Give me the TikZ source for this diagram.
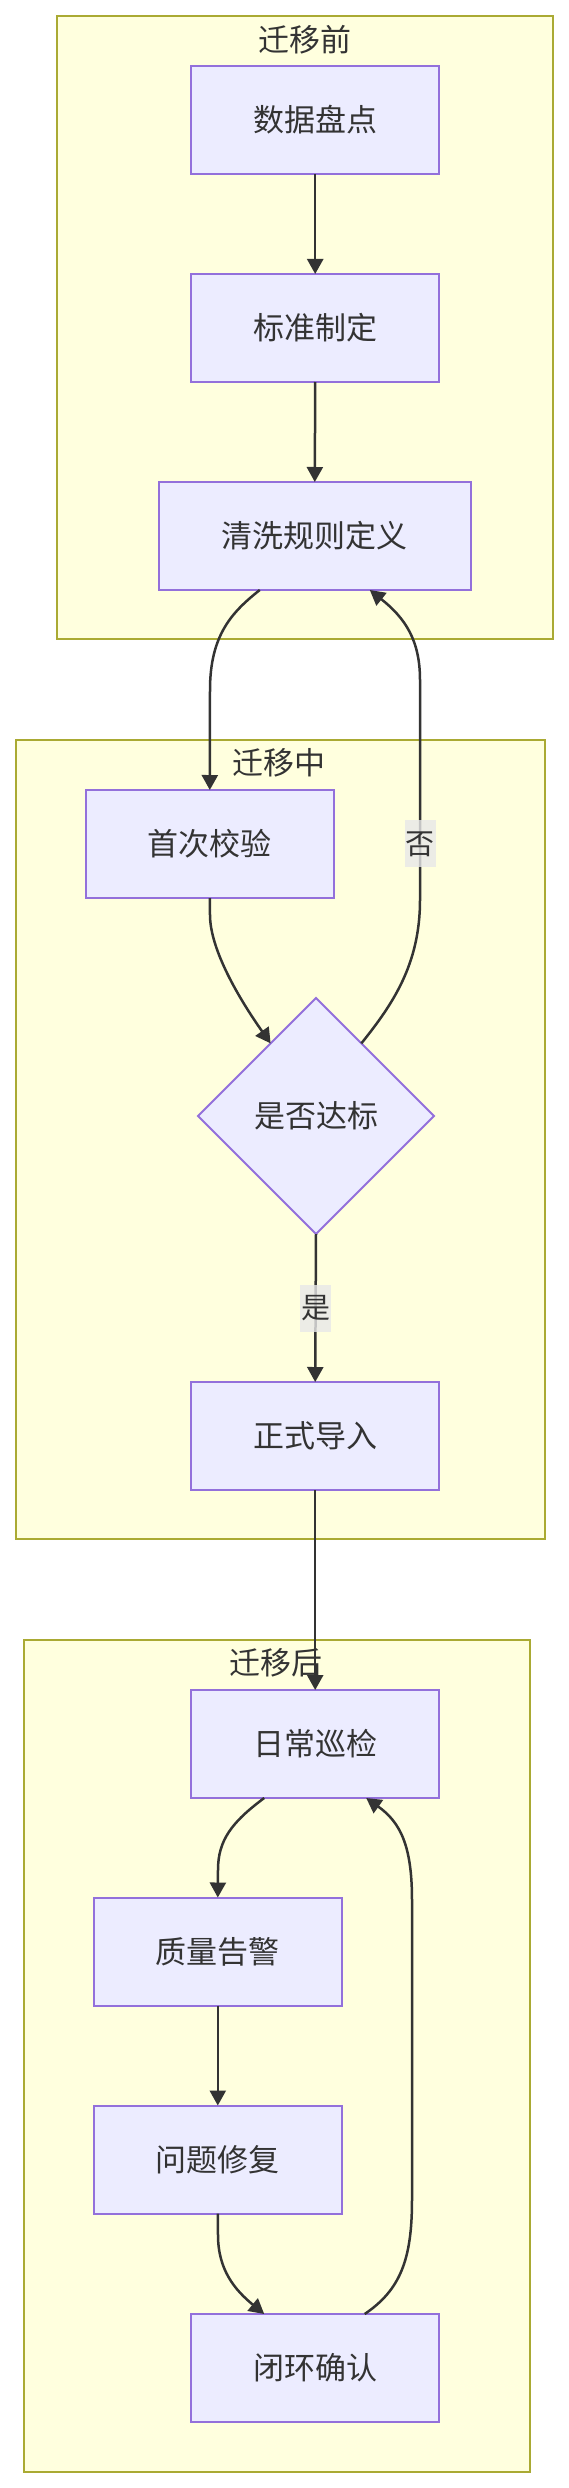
\documentclass[tikz,border=0pt]{standalone}
\usepackage{fontspec}
\newfontfamily\cjk{Noto Sans CJK SC}
\usetikzlibrary{arrows.meta,shapes.geometric}
\definecolor{boxfill}{HTML}{ECECFF}
\definecolor{boxline}{HTML}{9370DB}
\definecolor{clfill}{HTML}{FFFFDE}
\definecolor{clline}{HTML}{AAAA33}
\definecolor{edge}{HTML}{333333}
\definecolor{txt}{HTML}{333333}
\definecolor{lbl}{HTML}{E8E8E8}
\tikzset{
  cluster/.style={draw=clline,fill=clfill,line width=2pt,inner sep=0pt,outer sep=0pt},
  cltitle/.style={font=\cjk\fontsize{31}{37}\selectfont,text=txt,inner sep=0pt},
  stepbox/.style={draw=boxline,fill=boxfill,line width=2pt,minimum width=248pt,minimum height=108pt,inner sep=0pt,outer sep=0pt,font=\cjk\fontsize{31}{37}\selectfont,text=txt},
  decide/.style={diamond,draw=boxline,fill=boxfill,line width=2pt,minimum width=236pt,minimum height=236pt,inner sep=0pt,outer sep=0pt,font=\cjk\fontsize{31}{37}\selectfont,text=txt},
  flow/.style={draw=edge,line width=2.5pt,-{Triangle[length=15pt,width=16pt]}},
  elabel/.style={fill=lbl,fill opacity=0.8,text opacity=1,inner sep=0pt,minimum width=31pt,minimum height=47pt,font=\cjk\fontsize{29}{35}\selectfont,text=txt}
}
\begin{document}
\begin{tikzpicture}[x=1pt,y=-1pt]
\useasboundingbox (0,0) rectangle (569,2488);
% clusters
\node[cluster,minimum width=496.4pt,minimum height=623pt] (c1) at (305.2,327.5) {};
\node[cluster,minimum width=529.4pt,minimum height=799pt] (c2) at (280.3,1139.5) {};
\node[cluster,minimum width=506.4pt,minimum height=832pt] (c3) at (276.8,2056) {};
\node[cltitle] (t1) at (305,40) {迁移前};
\node[cltitle] (t2) at (279,763) {迁移中};
\node[cltitle] (t3) at (276,1663) {迁移后};
% nodes
\node[stepbox] (pd) at (315.2,120) {数据盘点};
\node[stepbox] (bz) at (315.2,328) {标准制定};
\node[stepbox,minimum width=312.4pt] (qx) at (314.8,536) {清洗规则定义};
\node[stepbox] (sc) at (209.8,844) {首次校验};
\node[decide] (dia) at (316,1116) {是否达标};
\node[stepbox] (zr) at (315.2,1436) {正式导入};
\node[stepbox] (rc) at (315.2,1744) {日常巡检};
\node[stepbox] (zl) at (217.8,1951.5) {质量告警};
\node[stepbox] (wt) at (217.8,2159.5) {问题修复};
\node[stepbox] (bh) at (315.2,2368) {闭环确认};
% edges
\draw[flow] (pd.south) -- (bz.north);
\draw[flow] (bz.south) -- (qx.north);
\draw[flow] ([xshift=-55pt]qx.south) .. controls (232,612) and (210,635) .. (210,690) -- (sc.north);
\draw[flow] (sc.south) -- (210,915) .. controls (210,950) and (240,1000) .. (dia.122);
\draw[flow] (dia.58) .. controls (392,1005) and (420,965) .. (420,900) -- node[elabel,pos=0.255] (no) {否} (420,680) .. controls (420,640) and (405,618) .. ([xshift=55pt]qx.south);
\draw[flow] (dia.south) -- node[elabel] (yes) {是} (zr.north);
\draw[flow] (zr.south) -- (rc.north);
\draw[flow] ([xshift=-51pt]rc.south) .. controls (232,1822) and (218,1840) .. (218,1870) -- (zl.north);
\draw[flow] (zl.south) -- (wt.north);
\draw[flow] (wt.south) -- (218,2235) .. controls (218,2270) and (235,2290) .. ([xshift=-51pt]bh.north);
\draw[flow] ([xshift=49.5pt]bh.north) .. controls (400,2290) and (412,2260) .. (412,2200) -- (412,1900) .. controls (412,1845) and (400,1822) .. ([xshift=51pt]rc.south);
\end{tikzpicture}
\end{document}
